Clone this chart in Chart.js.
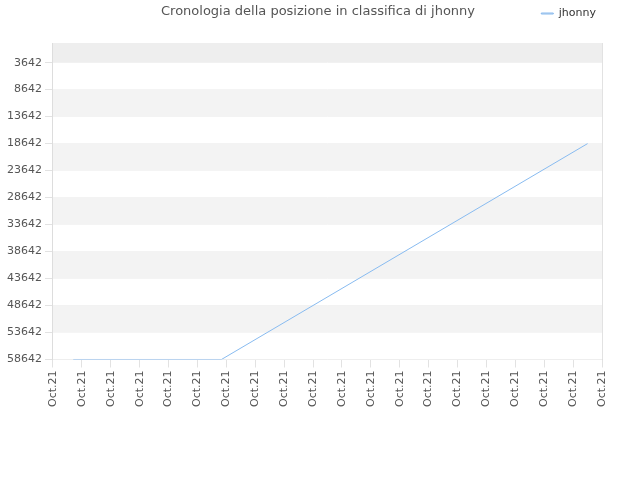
<!DOCTYPE html>
<html><head><meta charset="utf-8">
<script src="https://cdn.jsdelivr.net/npm/chart.js@4"></script>
<style>body{margin:0;background:#fff}#w{width:640px;height:480px}</style>
</head><body><div id="w"><canvas id="c"></canvas></div>
<script>
const xLabels = Array(20).fill("Oct.21");
const rankTicks = [3642, 8642, 13642, 18642, 23642, 28642, 33642, 38642, 43642, 48642, 53642, 58642];
const pointX = [0.7, 5.83, 18.5];
const pointY = [58642, 58642, 18642];

const bands = {
  id: "bands",
  beforeInit(chart) {
    const f = chart.legend.fit;
    chart.legend.fit = function () { f.call(this); this.height += 14; };
  },
  beforeDatasetsDraw(chart) {
    const {ctx, chartArea: a, scales: {y}} = chart;
    const edges = [a.top].concat(rankTicks.map(v => y.getPixelForValue(v)));
    ctx.save();
    for (let i = 0; i < edges.length - 1; i++) {
      ctx.fillStyle = i === 0 ? "#eeeeee" : (i % 2 === 0 ? "#f3f3f3" : "#ffffff");
      ctx.fillRect(a.left, edges[i], a.right - a.left, edges[i + 1] - edges[i]);
    }
    ctx.restore();
  },
  afterDraw(chart) {
    const ctx = chart.ctx;
    ctx.save();
    ctx.fillStyle = "#555";
    ctx.font = "13px 'DejaVu Sans'";
    ctx.textAlign = "center";
    ctx.textBaseline = "middle";
    ctx.fillText("Cronologia della posizione in classifica di jhonny", 318, 12);
    ctx.restore();
  }
};

new Chart(document.getElementById("c"), {
  type: "line",
  data: {datasets: [{label: "jhonny", data: pointX.map((x, i) => ({x: x, y: pointY[i]})),
    borderColor: "#88bbf0", borderWidth: 1, pointRadius: 0, fill: false}]},
  options: {
    animation: false, maintainAspectRatio: false,
    layout: {padding: {left: 4, right: 38, bottom: 70, top: 2}},
    plugins: {
      title: {display: false},
      legend: {position: "top", align: "end", labels: {boxWidth: 12, boxHeight: 1, padding: 6, color: "#333",
        font: {family: "DejaVu Sans", size: 11}}}
    },
    scales: {
      x: {type: "linear", min: 0, max: 19,
        afterBuildTicks: s => { s.ticks = xLabels.map((l, i) => ({value: i})); },
        ticks: {callback: (v, i) => xLabels[i], maxRotation: 90, minRotation: 90, autoSkip: false,
          color: "#555", font: {family: "DejaVu Sans", size: 11}},
        grid: {color: "#e2e2e2"}, border: {color: "#ddd"}},
      y: {reverse: true, min: 0, max: 58642,
        afterBuildTicks: s => { s.ticks = rankTicks.map(v => ({value: v})); },
        ticks: {callback: v => String(v), color: "#555", font: {family: "DejaVu Sans", size: 11}},
        grid: {color: "#e2e2e2"}, border: {color: "#ddd"}}
    }
  },
  plugins: [bands]
});
</script></body></html>
